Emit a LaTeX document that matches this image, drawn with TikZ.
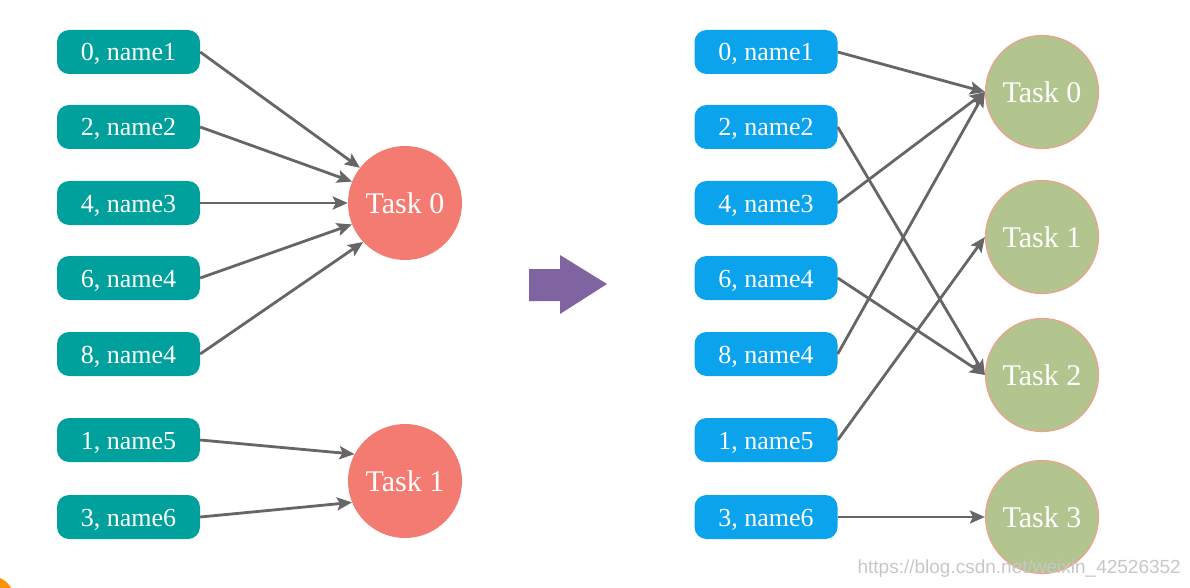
\documentclass[tikz,border=0pt]{standalone}
\usepackage{fontspec}
\setmainfont{Liberation Serif}
\newfontfamily\wmfont{Liberation Sans}
\usetikzlibrary{arrows.meta}
\definecolor{teal0}{HTML}{00A19C}
\definecolor{blue0}{HTML}{0AA3EC}
\definecolor{salmon0}{HTML}{F47B71}
\definecolor{green0}{HTML}{B3C58E}
\definecolor{ring0}{HTML}{EFA08E}
\definecolor{purple0}{HTML}{8064A2}
\definecolor{edge0}{HTML}{666666}
\tikzset{
  x=1pt, y=-1pt,
  tbox/.style={rectangle, rounded corners=12pt, minimum width=143pt, minimum height=44pt,
    inner sep=0pt, text=white, font=\fontsize{26}{29}\selectfont, text height=18pt, text depth=0pt},
  lbox/.style={tbox, fill=teal0},
  rbox/.style={tbox, fill=blue0},
  ltask/.style={circle, fill=salmon0, minimum size=114pt, inner sep=0pt, text=white,
    font=\fontsize{30}{33}\selectfont},
  rtask/.style={circle, fill=green0, draw=ring0, line width=1.2pt, minimum size=113pt, inner sep=0pt,
    text=white, font=\fontsize{30}{33}\selectfont},
  link/.style={draw=edge0, line width=2.8pt, -{Stealth[length=15pt,width=13pt,inset=3pt]}},
}
\begin{document}
\begin{tikzpicture}
\useasboundingbox (0,0) rectangle (1190,588);
% left side boxes
\node[lbox] (l0) at (128.5,52) {0, name1};
\node[lbox] (l2) at (128.5,127) {2, name2};
\node[lbox] (l4) at (128.5,203) {4, name3};
\node[lbox] (l6) at (128.5,278) {6, name4};
\node[lbox] (l8) at (128.5,354) {8, name4};
\node[lbox] (l1) at (128.5,440) {1, name5};
\node[lbox] (l3) at (128.5,517) {3, name6};
\node[ltask] (lt0) at (405,203) {Task 0};
\node[ltask] (lt1) at (405,481) {Task 1};
\draw[link] (l0.east) -- (lt0.142);
\draw[link] (l2.east) -- (lt0.158);
\draw[link] (l4.east) -- (lt0.180);
\draw[link] (l6.east) -- (lt0.202);
\draw[link] (l8.east) -- (lt0.223);
\draw[link] (l1.east) -- (lt1.152);
\draw[link] (l3.east) -- (lt1.202);
% big arrow
\fill[purple0] (529,269) -- (560,269) -- (560,255) -- (607,284) -- (560,314) -- (560,301) -- (529,301) -- cycle;
% right side boxes
\node[rbox] (r0) at (766,52) {0, name1};
\node[rbox] (r2) at (766,127) {2, name2};
\node[rbox] (r4) at (766,203) {4, name3};
\node[rbox] (r6) at (766,278) {6, name4};
\node[rbox] (r8) at (766,354) {8, name4};
\node[rbox] (r1) at (766,440) {1, name5};
\node[rbox] (r3) at (766,517) {3, name6};
\node[rtask] (rt0) at (1042,92) {Task 0};
\node[rtask] (rt1) at (1042,237) {Task 1};
\node[rtask] (rt2) at (1042,375) {Task 2};
\node[rtask] (rt3) at (1042,517) {Task 3};
\draw[link] (r0.east) -- (rt0.west);
\draw[link] (r4.east) -- (rt0.west);
\draw[link] (r8.east) -- (rt0.west);
\draw[link] (r2.east) -- (rt2.west);
\draw[link] (r6.east) -- (rt2.west);
\draw[link] (r1.east) -- (rt1.west);
\draw[link] (r3.east) -- (rt3.west);
% watermark
\node[anchor=east, text=black!22, font=\wmfont\fontsize{19}{22}\selectfont, inner sep=0pt] (wm) at (1181,569) {https://blog.csdn.net/weixin\_42526352};
% corner blob
\fill[orange!85!yellow] (0,578) .. controls (5,580) and (9,584) .. (11,588) -- (0,588) -- cycle;
\end{tikzpicture}
\end{document}
